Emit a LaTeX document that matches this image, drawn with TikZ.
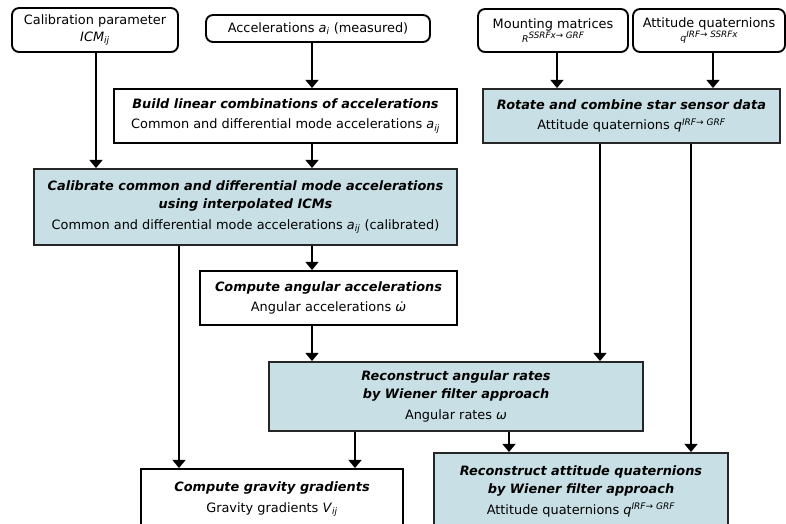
\documentclass[tikz,border=0pt]{standalone}
\usepackage{fontspec}
\setmainfont{DejaVu Sans}
\usepackage{tikz}
\usetikzlibrary{arrows.meta}

\definecolor{procblue}{RGB}{200,224,229}
\newcommand{\hd}[1]{\textbf{\textit{#1}}}
\newcommand{\vsub}[2]{\textit{#1}\textsubscript{\textit{#2}}}
\newcommand{\vsup}[2]{\textit{#1}\textsuperscript{\textit{#2}}}
\newcommand{\smsup}[2]{\textit{#1}{\fontsize{7.5}{8}\selectfont\raisebox{0.45em}{\textit{#2}}}}

\begin{document}
\begin{tikzpicture}[x=0.03cm,y=-0.03cm,
    font=\fontsize{11}{17.5}\selectfont,
    inbox/.style={draw,line width=1.6pt,rounded corners=6pt,align=center,inner sep=0pt},
    stepbox/.style={draw,line width=1.6pt,align=center,inner sep=0pt},
    procbox/.style={stepbox,fill=procblue,draw=black!85},
    flow/.style={line width=2.3pt,-{Triangle[width=11pt,length=7pt]}}]
  \useasboundingbox (0,0) rectangle (786,523);
  % inputs
  \node[inbox,minimum width=4.98cm,minimum height=1.32cm] (calib) at (95,30)
    {Calibration parameter\\[-3pt] \vsub{ICM}{ij}};
  \node[inbox,minimum width=6.72cm,minimum height=0.81cm] (accel) at (318,28.5)
    {Accelerations \vsub{a}{i} (measured)};
  \node[inbox,minimum width=4.5cm,minimum height=1.29cm] (mount) at (553,30.5)
    {Mounting matrices\\[-5pt] {\footnotesize\smsup{R}{SSRFx→ GRF}}};
  \node[inbox,minimum width=4.56cm,minimum height=1.29cm] (attq) at (709,30.5)
    {Attitude quaternions\\[-5pt] {\footnotesize\smsup{q}{IRF→ SSRFx}}};
  % processing steps
  \node[stepbox,minimum width=10.29cm,minimum height=1.62cm] (build) at (285.5,116)
    {\hd{Build linear combinations of accelerations}\\ Common and differential mode accelerations \vsub{a}{ij}};
  \node[procbox,minimum width=8.91cm,minimum height=1.62cm] (rotate) at (631.5,116)
    {\hd{Rotate and combine star sensor data}\\ Attitude quaternions \vsup{q}{IRF→ GRF}};
  \node[procbox,minimum width=12.69cm,minimum height=2.28cm] (calibrate) at (245.5,207)
    {\hd{Calibrate common and differential mode accelerations}\\[-2pt]
     \hd{using interpolated ICMs}\\ Common and differential mode accelerations \vsub{a}{ij} (calibrated)};
  \node[stepbox,minimum width=7.71cm,minimum height=1.62cm] (compute) at (328.5,298)
    {\hd{Compute angular accelerations}\\ Angular accelerations \textit{ω̇}};
  \node[procbox,minimum width=11.22cm,minimum height=2.07cm] (rates) at (456,396.5)
    {\hd{Reconstruct angular rates}\\[-2pt] \hd{by Wiener filter approach}\\ Angular rates \textit{ω}};
  \node[stepbox,minimum width=7.86cm,minimum height=1.83cm] (gravity) at (272,499.5)
    {\hd{Compute gravity gradients}\\ Gravity gradients \vsub{V}{ij}};
  \node[procbox,minimum width=8.82cm,minimum height=2.31cm] (attrec) at (581,491.5)
    {\hd{Reconstruct attitude quaternions}\\[-2pt] \hd{by Wiener filter approach}\\ Attitude quaternions \vsup{q}{IRF→ GRF}};
  % columns of the connectors
  \coordinate (xa) at (312,0);
  \coordinate (xb) at (179,0);
  \coordinate (xc) at (355,0);
  \coordinate (xd) at (509,0);
  \coordinate (xe) at (600,0);
  \coordinate (xf) at (691,0);
  \coordinate (xg) at (557,0);
  \coordinate (xh) at (713,0);
  \coordinate (xi) at (96,0);
  % connectors
  \draw[flow] (calib.south -| xi) -- (calibrate.north -| xi);
  \draw[flow] (accel.south -| xa) -- (build.north -| xa);
  \draw[flow] (build.south -| xa) -- (calibrate.north -| xa);
  \draw[flow] (mount.south -| xg) -- (rotate.north -| xg);
  \draw[flow] (attq.south -| xh) -- (rotate.north -| xh);
  \draw[flow] (calibrate.south -| xa) -- (compute.north -| xa);
  \draw[flow] (calibrate.south -| xb) -- (gravity.north -| xb);
  \draw[flow] (compute.south -| xa) -- (rates.north -| xa);
  \draw[flow] (rotate.south -| xe) -- (rates.north -| xe);
  \draw[flow] (rotate.south -| xf) -- (attrec.north -| xf);
  \draw[flow] (rates.south -| xc) -- (gravity.north -| xc);
  \draw[flow] (rates.south -| xd) -- (attrec.north -| xd);
\end{tikzpicture}
\end{document}
